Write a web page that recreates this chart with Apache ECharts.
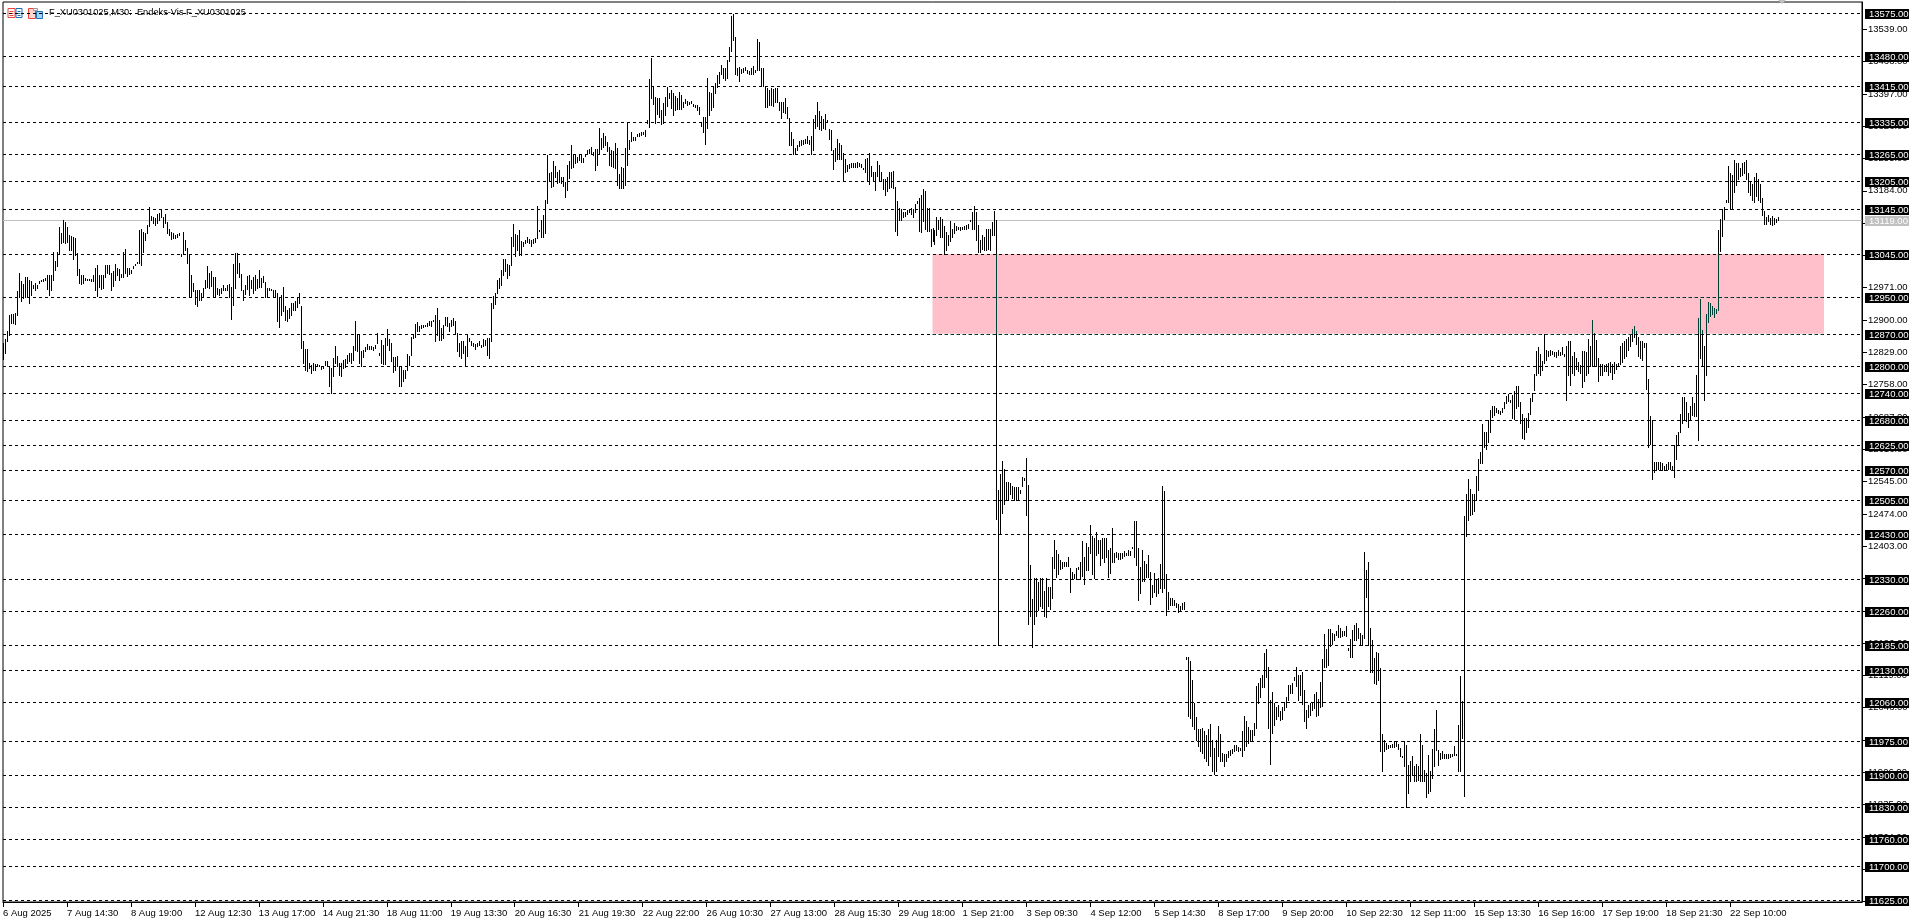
<!DOCTYPE html>
<html><head><meta charset="utf-8">
<style>html,body{margin:0;padding:0;background:#fff}#c{width:1920px;height:923px}</style>
<script src="https://cdn.jsdelivr.net/npm/echarts@6/dist/echarts.min.js"></script>
</head><body><div id="c"></div>
<script>
const chartTitle = 'F_XU0301025,M30:  Endeks-Vis F_XU0301025';
const timeLabels = ['6 Aug 2025','7 Aug 14:30','8 Aug 19:00','12 Aug 12:30','13 Aug 17:00','14 Aug 21:30','18 Aug 11:00','19 Aug 13:30','20 Aug 16:30','21 Aug 19:30','22 Aug 22:00','26 Aug 10:30','27 Aug 13:00','28 Aug 15:30','29 Aug 18:00','1 Sep 21:00','3 Sep 09:30','4 Sep 12:00','5 Sep 14:30','8 Sep 17:00','9 Sep 20:00','10 Sep 22:30','12 Sep 11:00','15 Sep 13:30','16 Sep 16:00','17 Sep 19:00','18 Sep 21:30','22 Sep 10:00'];
const priceTicks = [11622,11693,11764,11835,11906,11977,12048,12119,12190,12261,12332,12403,12474,12545,12616,12687,12758,12829,12900,12971,13042,13113,13184,13255,13326,13397,13468,13539];
const levels = [13575,13480,13415,13335,13265,13205,13145,13045,12950,12870,12800,12740,12680,12625,12570,12505,12430,12330,12260,12185,12130,12060,11975,11900,11830,11760,11700,11625];
const currentPrice = 13119;
const zoneHigh = 13045, zoneLow = 12870, zoneFromBar = 465, zoneToBar = 911;
// each bar: [high, low]
const rangesAug6to14 = [[12850,12815],[12858,12828],[12876,12853],[12911,12867],[12913,12893],[12913,12893],[12915,12891],[12964,12911],[13003,12950],[12986,12941],[12979,12948],[12995,12951],[12994,12953],[12988,12938],[12986,12955],[12977,12970],[12981,12965],[12976,12970],[12986,12981],[12988,12985],[12990,12986],[12992,12988],[12999,12968],[12999,12955],[12999,12965],[13050,12988],[13030,13009],[13049,13019],[13104,13048],[13091,13069],[13119,13072],[13116,13069],[13105,13072],[13087,13054],[13085,13054],[13083,13034],[13080,13043],[13047,13000],[13012,12981],[12999,12979],[12999,12981],[12992,12988],[12990,12987],[12990,12987],[12990,12986],[12999,12986],[13014,12966],[13021,12953],[12999,12972],[12999,12968],[12999,12970],[13021,12995],[13021,13003],[13021,13001],[13003,12965],[13007,12975],[13023,12987],[13014,12999],[13012,12988],[13001,12994],[13050,12995],[13056,13004],[13014,12997],[13014,13001],[13009,13004],[13019,13015],[13023,13020],[13027,13025],[13098,13025],[13100,13021],[13094,13050],[13091,13076],[13109,13092],[13148,13107],[13129,13119],[13127,13114],[13124,13109],[13133,13114],[13136,13119],[13143,13126],[13126,13105],[13133,13114],[13116,13091],[13100,13087],[13093,13078],[13091,13081],[13087,13080],[13089,13082],[13091,13086],[13045,13041],[13094,13045],[13077,13054],[13058,13025],[13043,12952],[13000,12953],[12981,12963],[12966,12935],[12965,12930],[12966,12943],[12960,12944],[12970,12951],[12988,12970],[13019,12972],[13004,12970],[13007,12975],[12995,12950],[12994,12951],[12970,12957],[12968,12955],[12970,12960],[12977,12966],[12970,12966],[12977,12965],[12979,12951],[12972,12902],[13023,12933],[13047,12970],[13047,13003],[13025,12994],[13001,12966],[12966,12943],[12977,12957],[12997,12968],[12999,12955],[12988,12970],[12994,12960],[12999,12966],[12990,12970],[13010,12972],[12992,12972],[12997,12984],[12984,12950],[12970,12952],[12970,12966],[12968,12965],[12966,12953],[12965,12950],[12959,12899],[12948,12884],[12955,12911],[12973,12919],[12930,12900],[12922,12899],[12926,12904],[12937,12911],[12938,12922],[12941,12922],[12950,12928],[12959,12938],[12931,12838],[12853,12806],[12836,12790],[12836,12789],[12805,12794],[12801,12783],[12806,12790],[12804,12790],[12804,12798],[12801,12798],[12798,12792],[12800,12794],[12809,12801],[12809,12800],[12798,12754],[12794,12739],[12816,12776],[12843,12805],[12820,12798],[12805,12779],[12805,12777],[12812,12794],[12814,12796],[12823,12805],[12827,12809],[12827,12805],[12842,12812],[12897,12834],[12869,12831],[12869,12805]];
const rangesAug14to26 = [[12833,12799],[12834,12818],[12840,12833],[12847,12837],[12843,12836],[12842,12836],[12840,12834],[12845,12838],[12871,12849],[12828,12823],[12856,12805],[12845,12804],[12860,12804],[12880,12845],[12858,12834],[12849,12809],[12818,12785],[12818,12790],[12820,12799],[12799,12755],[12798,12754],[12790,12765],[12790,12772],[12826,12790],[12820,12801],[12862,12823],[12869,12860],[12891,12862],[12895,12875],[12886,12877],[12889,12882],[12889,12884],[12889,12886],[12894,12887],[12898,12889],[12899,12887],[12900,12897],[12911,12853],[12926,12867],[12900,12856],[12882,12856],[12889,12860],[12906,12889],[12906,12886],[12893,12877],[12900,12886],[12904,12889],[12897,12871],[12872,12833],[12850,12820],[12853,12816],[12853,12827],[12843,12799],[12869,12820],[12860,12853],[12853,12845],[12849,12843],[12848,12836],[12850,12843],[12853,12845],[12845,12840],[12858,12842],[12856,12845],[12860,12823],[12860,12817],[12937,12853],[12953,12926],[12960,12935],[12988,12960],[12992,12970],[13010,12977],[13034,13000],[13034,13007],[13023,12992],[13021,13000],[13083,13021],[13111,13063],[13089,13041],[13087,13053],[13097,13043],[13074,13043],[13071,13063],[13075,13069],[13082,13072],[13078,13070],[13076,13063],[13078,13069],[13080,13072],[13151,13080],[13099,13096],[13120,13083],[13131,13083],[13164,13092],[13263,13157],[13224,13208],[13226,13193],[13250,13195],[13239,13215],[13226,13201],[13230,13204],[13215,13201],[13215,13195],[13204,13171],[13241,13186],[13250,13212],[13285,13234],[13263,13237],[13263,13246],[13259,13248],[13264,13252],[13264,13248],[13256,13248],[13265,13261],[13274,13265],[13275,13267],[13280,13265],[13270,13263],[13275,13230],[13275,13241],[13322,13265],[13300,13275],[13311,13281],[13305,13285],[13292,13272],[13281,13241],[13274,13239],[13272,13236],[13289,13234],[13278,13197],[13221,13190],[13236,13190],[13234,13190],[13278,13197],[13334,13241],[13296,13275],[13314,13294],[13303,13296],[13303,13296],[13309,13305],[13311,13305],[13314,13307],[13314,13309],[13318,13305],[13340,13334],[13429,13325],[13475,13387],[13413,13375],[13390,13332],[13387,13353],[13387,13347],[13362,13331],[13376,13332],[13390,13351],[13412,13371],[13398,13387],[13406,13365],[13398,13351],[13393,13362],[13387,13363],[13402,13363],[13395,13363],[13380,13369],[13385,13376],[13382,13373],[13380,13375],[13382,13376],[13375,13371],[13373,13369],[13373,13362],[13369,13353],[13332,13327],[13347,13314],[13346,13286],[13431,13322],[13402,13351],[13398,13362],[13412,13369],[13422,13398],[13439,13413],[13446,13422]];
const rangesAug26toSep5 = [[13461,13441],[13455,13432],[13453,13428],[13471,13432],[13500,13469],[13569,13491],[13573,13516],[13523,13441],[13455,13439],[13457,13425],[13452,13444],[13455,13446],[13457,13450],[13450,13444],[13448,13441],[13455,13441],[13459,13441],[13450,13446],[13517,13450],[13511,13450],[13455,13414],[13455,13414],[13414,13369],[13411,13369],[13405,13373],[13409,13373],[13408,13370],[13409,13380],[13409,13380],[13380,13362],[13380,13344],[13380,13357],[13389,13355],[13369,13344],[13344,13285],[13314,13285],[13298,13264],[13278,13266],[13284,13273],[13293,13282],[13296,13285],[13296,13287],[13298,13289],[13305,13289],[13296,13287],[13305,13266],[13341,13273],[13350,13323],[13380,13326],[13359,13319],[13348,13317],[13341,13323],[13353,13320],[13339,13335],[13320,13298],[13317,13273],[13273,13232],[13278,13250],[13298,13253],[13289,13253],[13284,13255],[13268,13208],[13253,13226],[13241,13228],[13244,13235],[13246,13237],[13246,13237],[13246,13237],[13248,13237],[13246,13238],[13244,13237],[13235,13231],[13255,13226],[13257,13205],[13268,13200],[13238,13217],[13226,13208],[13226,13186],[13250,13217],[13241,13208],[13226,13208],[13211,13189],[13209,13175],[13214,13184],[13226,13191],[13226,13193],[13228,13191],[13193,13096],[13162,13087],[13146,13120],[13144,13120],[13137,13126],[13138,13129],[13141,13132],[13144,13137],[13146,13132],[13144,13126],[13155,13137],[13162,13157],[13168,13096],[13175,13093],[13187,13118],[13184,13100],[13146,13096],[13146,13096],[13100,13062],[13102,13073],[13098,13068],[13127,13087],[13120,13100],[13127,13082],[13123,13082],[13107,13046],[13093,13055],[13087,13066],[13118,13073],[13100,13082],[13114,13091],[13107,13098],[13105,13100],[13105,13098],[13105,13100],[13107,13100],[13109,13100],[13111,13102],[13120,13117],[13137,13100],[13150,13100],[13137,13075],[13109,13050],[13077,13050],[13087,13056],[13082,13055],[13100,13055],[13100,13056],[13100,13055],[13116,13087],[13139,13087],[13120,12462],[12527,12186],[12562,12432],[12591,12477],[12573,12495],[12545,12504],[12543,12504],[12541,12518],[12536,12509],[12534,12504],[12532,12504],[12532,12504],[12527,12520],[12554,12536],[12552,12548],[12597,12471],[12538,12231],[12361,12250],[12286,12181],[12332,12231],[12332,12250],[12325,12263],[12332,12272],[12332,12268],[12304,12250],[12332,12247],[12313,12272],[12313,12265],[12380,12289],[12416,12354],[12395,12336],[12386,12341],[12372,12352],[12368,12354],[12368,12359],[12368,12359],[12380,12359],[12356,12302],[12347,12331],[12341,12334],[12356,12331],[12358,12352]];
const rangesSep5to15 = [[12369,12330],[12415,12338],[12380,12320],[12409,12351],[12402,12351],[12450,12389],[12426,12342],[12420,12333],[12435,12384],[12417,12387],[12417,12362],[12420,12376],[12420,12369],[12420,12380],[12395,12335],[12398,12343],[12442,12369],[12389,12369],[12391,12379],[12389,12374],[12389,12374],[12389,12376],[12393,12382],[12389,12384],[12395,12384],[12393,12384],[12401,12398],[12458,12380],[12458,12362],[12398,12285],[12357,12301],[12395,12327],[12371,12327],[12364,12335],[12384,12336],[12346,12276],[12318,12292],[12343,12303],[12330,12294],[12333,12301],[12364,12311],[12535,12303],[12524,12311],[12342,12252],[12302,12264],[12289,12274],[12289,12274],[12285,12274],[12278,12270],[12276,12259],[12272,12261],[12278,12264],[12280,12266],[12159,12156],[12159,12030],[12151,12025],[12109,12008],[12058,12001],[12028,11977],[12001,11963],[12001,11952],[12003,11949],[11996,11938],[11988,11930],[12001,11922],[12012,11941],[11977,11910],[11959,11902],[11977,11908],[12007,11941],[11990,11930],[11948,11930],[11946,11920],[11946,11930],[11952,11939],[11955,11944],[11957,11948],[11966,11952],[11966,11954],[11961,11952],[11959,11954],[11996,11942],[12030,11955],[12018,11963],[12005,11971],[11999,11974],[11999,11974],[12014,11988],[12096,12003],[12103,12059],[12113,12072],[12120,12093],[12168,12094],[12177,12116],[12137,12003],[12065,11924],[12083,11992],[12059,12010],[12050,12023],[12054,12030],[12040,12020],[12050,12023],[12061,12043],[12071,12050],[12098,12064],[12098,12080],[12103,12081],[12115,12110],[12137,12096],[12120,12065],[12120,12076],[12127,12056],[12087,12018],[12043,12003],[12054,12028],[12058,12032],[12061,12043],[12078,12047],[12083,12030],[12067,12032],[12105,12050],[12154,12052],[12210,12138],[12176,12138],[12220,12142],[12220,12184],[12212,12188],[12210,12197],[12217,12208],[12230,12204],[12223,12203],[12217,12206],[12217,12208],[12228,12206],[12179,12175],[12198,12159],[12219,12160],[12230,12197],[12234,12197],[12223,12201],[12213,12186],[12208,12186],[12390,12201],[12351,12291],[12369,12186],[12223,12127],[12197,12127],[12157,12103],[12171,12100],[12168,12109],[12135,11952],[11990,11908],[11976,11952],[11970,11957],[11966,11959],[11966,11961],[11968,11961],[11975,11961],[11975,11963],[11968,11957],[11959,11941],[11942,11939],[11975,11920],[11966,11829],[11922,11861],[11930,11888],[11941,11900],[11920,11888],[11924,11888],[11919,11889],[11990,11888],[11966,11886],[11911,11886],[11904,11851],[11944,11861],[11910,11864],[11957,11893],[12001,11920],[12043,11955],[11954,11922]];
const rangesSep15to23 = [[11949,11935],[11952,11938],[11947,11938],[11946,11937],[11946,11938],[11947,11940],[11947,11941],[11963,11945],[11947,11943],[12009,11908],[12118,11908],[12063,11982],[12470,11855],[12518,12425],[12550,12461],[12529,12472],[12518,12474],[12518,12481],[12558,12505],[12595,12527],[12610,12585],[12671,12585],[12655,12622],[12653,12616],[12681,12632],[12703,12653],[12712,12687],[12712,12692],[12706,12699],[12703,12696],[12701,12694],[12706,12699],[12719,12706],[12733,12718],[12738,12721],[12724,12719],[12736,12684],[12745,12682],[12755,12706],[12755,12710],[12719,12673],[12694,12641],[12684,12638],[12684,12655],[12696,12664],[12729,12694],[12740,12721],[12782,12747],[12832,12780],[12840,12784],[12826,12780],[12810,12790],[12869,12805],[12835,12812],[12832,12821],[12835,12823],[12832,12826],[12829,12821],[12830,12818],[12835,12823],[12830,12824],[12840,12826],[12826,12821],[12842,12724],[12854,12780],[12854,12758],[12821,12784],[12829,12780],[12817,12793],[12807,12789],[12801,12784],[12832,12752],[12832,12766],[12830,12780],[12858,12784],[12844,12798],[12900,12798],[12872,12798],[12856,12798],[12817,12766],[12803,12780],[12803,12780],[12801,12789],[12803,12789],[12805,12780],[12807,12786],[12803,12770],[12807,12784],[12803,12793],[12805,12799],[12844,12803],[12849,12807],[12854,12817],[12858,12821],[12863,12835],[12867,12844],[12881,12854],[12888,12863],[12877,12847],[12863,12821],[12854,12817],[12854,12812],[12849,12840],[12849,12749],[12770,12620],[12690,12627],[12681,12551],[12588,12567],[12588,12570],[12588,12573],[12588,12572],[12585,12570],[12579,12570],[12583,12572],[12588,12572],[12588,12573],[12579,12570],[12625,12555],[12647,12595],[12655,12627],[12694,12655],[12731,12673],[12731,12682],[12719,12678],[12696,12666],[12710,12682],[12731,12692],[12718,12690],[12780,12690],[12904,12636],[12946,12817],[12878,12798],[12844,12724],[12914,12780],[12939,12895],[12937,12909],[12930,12914],[12927,12906],[12925,12915],[13099,12923],[13122,13052],[13145,13085],[13149,13122],[13163,13160],[13239,13159],[13223,13143],[13219,13143],[13251,13182],[13245,13196],[13245,13211],[13235,13217],[13245,13219],[13248,13223],[13251,13209],[13223,13182],[13205,13174],[13200,13163],[13214,13159],[13223,13172],[13209,13163],[13198,13159],[13168,13131],[13140,13112],[13126,13112],[13131,13117],[13124,13110],[13128,13108],[13124,13112],[13122,13115],[13126,13120]];

const ranges = [...rangesAug6to14, ...rangesAug14to26, ...rangesAug26toSep5, ...rangesSep5to15, ...rangesSep15to23];
const barSlots = 931;
const barsPerLabel = 32;
const categories = Array.from({length: barSlots}, (_, i) => i % barsPerLabel === 0 ? (timeLabels[i / barsPerLabel] || '') : ' ');
const labelled = i => i % barsPerLabel === 0 && i / barsPerLabel < timeLabels.length;
const rows = ranges.map((r, i) => [i, r[0], r[1]]);
const levelRows = [[currentPrice, 1], ...levels.map(v => [v, 0])];

const BLACK = '#000', XOR = '#003f34', PINK = '#ffc0cb', GREY = '#c0c0c0';
const FONT = '"Liberation Sans", sans-serif';
const DASH = [3, 3];

function renderLevel(params, api) {
  const v = api.value(0), isCurrent = api.value(1) === 1;
  const cs = params.coordSys;
  const row = Math.round(api.coord([0, v])[1]);
  const y = row + 0.5, left = cs.x, right = cs.x + cs.width;
  const colour = isCurrent ? GREY : BLACK;
  const kids = [{type: 'line', shape: {x1: left, y1: y, x2: right, y2: y},
    style: {stroke: colour, lineWidth: 1, lineDash: isCurrent ? null : DASH}}];
  if (!isCurrent && v < zoneHigh && v >= zoneLow) {
    const a = api.coord([zoneFromBar, v])[0], b = api.coord([zoneToBar, v])[0];
    kids.push({type: 'line', shape: {x1: a, y1: y, x2: b, y2: y}, style: {stroke: XOR, lineWidth: 1, lineDash: DASH}});
  }
  kids.push({type: 'rect', shape: {x: right + 3, y: row - 4, width: 44, height: 10}, style: {fill: colour}});
  kids.push({type: 'text', style: {x: right + 7, y: row + 1, text: v.toFixed(2), fill: '#fff', font: '9.5px ' + FONT, textAlign: 'left', textVerticalAlign: 'middle'}});
  return {type: 'group', children: kids};
}

function renderBar(params, api) {
  const i = api.value(0), hi = api.value(1), lo = api.value(2);
  const x = Math.round(api.coord([i, hi])[0]) + 0.5;
  const yOf = v => Math.round(api.coord([i, v])[1]);
  const seg = (a, b, c) => ({type: 'line', shape: {x1: x, y1: yOf(a), x2: x, y2: yOf(b) + 1}, style: {stroke: c, lineWidth: 1}});
  const inZone = i >= zoneFromBar && i <= zoneToBar;
  const kids = [];
  if (!inZone || hi <= zoneLow || lo >= zoneHigh) kids.push(seg(hi, lo, BLACK));
  else {
    if (hi > zoneHigh) kids.push(seg(hi, zoneHigh, BLACK));
    kids.push(seg(Math.min(hi, zoneHigh), Math.max(lo, zoneLow), XOR));
    if (lo < zoneLow) kids.push(seg(zoneLow, lo, BLACK));
  }
  return {type: 'group', children: kids};
}

const chart = echarts.init(document.getElementById('c'), null, {renderer: 'canvas'});
chart.setOption({
  animation: false,
  backgroundColor: '#fff',
  grid: {left: 2, right: 58, top: 2, bottom: 21, show: true, borderColor: BLACK, borderWidth: 1, backgroundColor: '#fff'},
  title: {text: chartTitle, left: 49, top: 8, padding: 0, textStyle: {fontFamily: FONT, fontSize: 9.25, fontWeight: 'normal', color: BLACK}},
  xAxis: {type: 'category', data: categories, boundaryGap: false,
    axisLine: {lineStyle: {color: BLACK, width: 1}},
    axisTick: {interval: labelled, length: 5, lineStyle: {color: BLACK}},
    axisLabel: {interval: labelled, align: 'left', margin: 6, color: BLACK, fontFamily: FONT, fontSize: 9.5, hideOverlap: false, showMinLabel: true, showMaxLabel: true},
    splitLine: {show: false}},
  yAxis: {type: 'value', position: 'right', min: 11621, max: 13599, scale: true,
    axisLine: {show: true, lineStyle: {color: BLACK, width: 1}},
    axisTick: {show: true, length: 5, customValues: priceTicks, lineStyle: {color: BLACK}},
    axisLabel: {customValues: priceTicks, margin: 6, color: BLACK, fontFamily: FONT, fontSize: 9.5, formatter: v => Number(v).toFixed(2), showMinLabel: true, showMaxLabel: true},
    splitLine: {show: false}},
  graphic: [
    {type: 'polygon', shape: {points: [[1778, 0], [1786, 0], [1782, 4]]}, style: {fill: GREY}, silent: true},
    {type: 'group', left: 7, top: 8, silent: true, children: [
      {type: 'rect', shape: {x: 0.5, y: 0.5, width: 7, height: 9}, style: {fill: '#fff', stroke: '#e8443a'}},
      {type: 'rect', shape: {x: 8.5, y: 0.5, width: 6, height: 9}, style: {fill: '#fff', stroke: '#1a6fb4'}},
      {type: 'line', shape: {x1: 2, y1: 3.5, x2: 6, y2: 3.5}, style: {stroke: '#e8443a'}},
      {type: 'line', shape: {x1: 2, y1: 5.5, x2: 6, y2: 5.5}, style: {stroke: '#e8443a'}},
      {type: 'line', shape: {x1: 2, y1: 7.5, x2: 6, y2: 7.5}, style: {stroke: '#e8443a'}},
      {type: 'line', shape: {x1: 10, y1: 3.5, x2: 13, y2: 3.5}, style: {stroke: '#1a6fb4'}},
      {type: 'line', shape: {x1: 10, y1: 5.5, x2: 13, y2: 5.5}, style: {stroke: '#1a6fb4'}},
      {type: 'line', shape: {x1: 10, y1: 7.5, x2: 13, y2: 7.5}, style: {stroke: '#1a6fb4'}}
    ]},
    {type: 'group', left: 28, top: 8, silent: true, children: [
      {type: 'rect', shape: {x: 0.5, y: 0.5, width: 7, height: 10}, style: {fill: '#fcd5cf', stroke: '#e8443a'}},
      {type: 'rect', shape: {x: 8.5, y: 3.5, width: 6, height: 7}, style: {fill: '#a9d3f2', stroke: '#1a6fb4'}},
      {type: 'rect', shape: {x: 5.5, y: 0.5, width: 4, height: 2}, style: {fill: '#fff', stroke: '#999'}}
    ]}
  ],
  series: [
    {type: 'line', name: 'zone', data: [], z: 1, silent: true, clip: false,
      markArea: {silent: true, z: 1, itemStyle: {color: PINK, opacity: 1, borderWidth: 0},
        data: [[{xAxis: zoneFromBar, yAxis: zoneHigh}, {xAxis: zoneToBar, yAxis: zoneLow}]]}},
    {type: 'custom', name: 'levels', z: 2, silent: true, clip: false, renderItem: renderLevel,
      encode: {y: 0}, data: levelRows},
    {type: 'custom', name: 'F_XU0301025', z: 3, silent: true, clip: false, renderItem: renderBar,
      encode: {x: 0, y: [1, 2]}, data: rows}
  ]
});
</script></body></html>
